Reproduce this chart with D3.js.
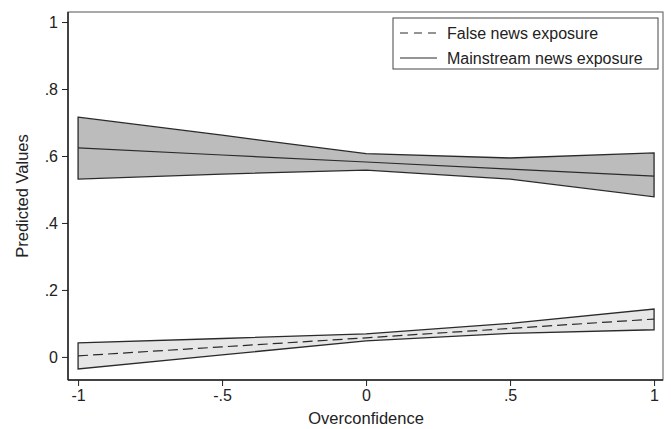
<!DOCTYPE html>
<html><head>
<meta charset="utf-8">
<script src="https://d3js.org/d3.v7.min.js"></script>
<style>
  body { margin: 0; background: #fff; }
  text { font-family: "Liberation Sans", Arial, sans-serif; fill: #222; }
</style>
</head>
<body>
<svg id="chart" width="671" height="429"></svg>
<script>
// overconfidence values
const xVals = [-1, -0.5, 0, 0.5, 1];

// mainstream news exposure
const mainMean  = [0.624, 0.603, 0.582, 0.561, 0.540];
const mainUpper = [0.716, 0.662, 0.607, 0.594, 0.609];
const mainLower = [0.531, 0.546, 0.558, 0.531, 0.478];

// false news exposure
const falseMean  = [0.003, 0.030, 0.057, 0.085, 0.113];
const falseUpper = [0.042, 0.055, 0.069, 0.100, 0.143];
const falseLower = [-0.036, 0.006, 0.048, 0.070, 0.081];

const yTicks = [0, 0.2, 0.4, 0.6, 0.8, 1];
const yTickLabels = ["0", ".2", ".4", ".6", ".8", "1"];
const xTicks = [-1, -0.5, 0, 0.5, 1];
const xTickLabels = ["-1", "-.5", "0", ".5", "1"];
const legendLabels = ["False news exposure", "Mainstream news exposure"];

let svg = d3.select("svg#chart");
let margin = {"top": 12, "right": 8, "bottom": 49, "left": 68};
let width = +svg.attr("width"), height = +svg.attr("height");
let chartWidth = width - margin.left - margin.right;
let chartHeight = height - margin.top - margin.bottom;

let xScale = d3.scaleLinear().domain([-1.035, 1.031]).range([0, chartWidth]);
let yScale = d3.scaleLinear().domain([-0.069, 1.03]).range([chartHeight, 0]);

let g = svg.append("g").attr("transform", "translate(" + margin.left + "," + margin.top + ")");

function rows(mean, lo, hi) {
  return xVals.map((x, i) => ({x: x, m: mean[i], lo: lo[i], hi: hi[i]}));
}
let mainData = rows(mainMean, mainLower, mainUpper);
let falseData = rows(falseMean, falseLower, falseUpper);

let area = d3.area().x(d => xScale(d.x)).y0(d => yScale(d.lo)).y1(d => yScale(d.hi));
let line = d3.line().x(d => xScale(d.x)).y(d => yScale(d.m));

// bands
[[mainData, "#bcbcbc"], [falseData, "#e6e6e6"]].forEach(([data, fill]) => {
  g.append("path").datum(data)
    .attr("d", d => area(d) + "Z")
    .attr("fill", fill)
    .attr("stroke", "#2a2a2a")
    .attr("stroke-width", 1.3)
    .attr("stroke-linejoin", "miter");
});

g.append("path").datum(mainData).attr("d", line)
  .attr("fill", "none").attr("stroke", "#2a2a2a").attr("stroke-width", 1.2);
g.append("path").datum(falseData).attr("d", line)
  .attr("fill", "none").attr("stroke", "#2a2a2a").attr("stroke-width", 1.2)
  .attr("stroke-dasharray", "10,5");

// frame
g.append("rect").attr("x", 0).attr("y", 0)
  .attr("width", chartWidth).attr("height", chartHeight)
  .attr("fill", "none").attr("stroke", "#555").attr("stroke-width", 1);

// axes
let yAxis = d3.axisLeft(yScale).tickValues(yTicks)
  .tickFormat((d, i) => yTickLabels[i]).tickSize(6).tickPadding(4);
let yG = g.append("g").call(yAxis);

let xAxis = d3.axisBottom(xScale).tickValues(xTicks)
  .tickFormat((d, i) => xTickLabels[i]).tickSize(6).tickPadding(4);
let xG = g.append("g").attr("transform", "translate(0," + chartHeight + ")").call(xAxis);

[yG, xG].forEach(a => {
  a.select(".domain").attr("stroke", "#222").attr("stroke-width", 1.5);
  a.selectAll(".tick line").attr("stroke", "#222").attr("stroke-width", 1);
  a.selectAll(".tick text").style("font-size", "16px")
    .style("font-family", "'Liberation Sans', Arial, sans-serif").attr("fill", "#222");
});
// stata y axis spans full plot height
yG.select(".domain").attr("d", "M0," + chartHeight + "V0");
xG.select(".domain").attr("d", "M0,0H" + chartWidth);

// axis titles
svg.append("text")
  .attr("transform", "translate(28," + (margin.top + chartHeight / 2) + ") rotate(-90)")
  .attr("text-anchor", "middle").style("font-size", "16.5px").text("Predicted Values");
svg.append("text")
  .attr("x", margin.left + xScale(0)).attr("y", 424)
  .attr("text-anchor", "middle").style("font-size", "16.5px").text("Overconfidence");

// legend
let legend = svg.append("g").attr("transform", "translate(393,18)");
legend.append("rect").attr("width", 265).attr("height", 51)
  .attr("fill", "#fff").attr("stroke", "#444").attr("stroke-width", 1);
legendLabels.forEach((lab, i) => {
  let y = 15 + i * 25;
  legend.append("line").attr("x1", 7).attr("x2", 44).attr("y1", y).attr("y2", y)
    .attr("stroke", "#2a2a2a").attr("stroke-width", 1.2)
    .attr("stroke-dasharray", i === 0 ? "8,6" : null);
  legend.append("text").attr("x", 54).attr("y", y + 6)
    .style("font-size", "16px").text(lab);
});
</script>
</body>
</html>
